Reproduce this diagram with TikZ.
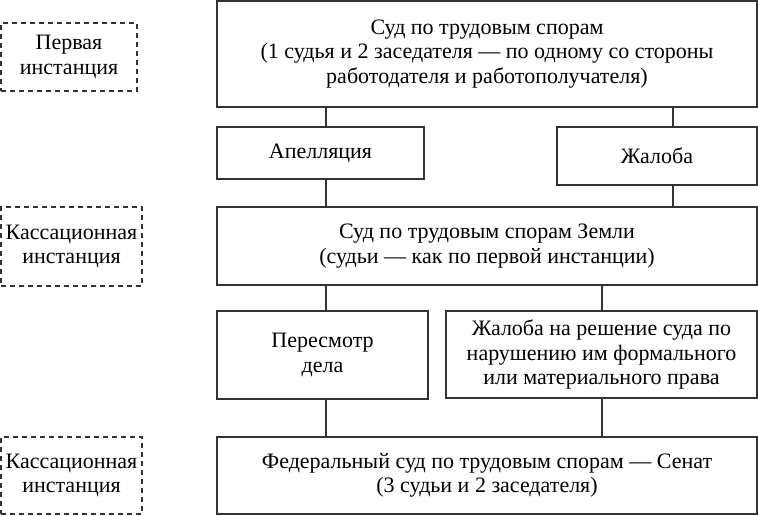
\documentclass[tikz,border=0pt]{standalone}
\usepackage{fontspec}
\setmainfont{Liberation Serif}
\begin{document}
\begin{tikzpicture}[x=1pt, y=-1pt,
    court/.style ={rectangle, draw=black!80, line width=1.2pt, align=center,
      font=\fontsize{22}{24.5}\selectfont, inner sep=0pt},
    level/.style ={rectangle, draw=black!80, line width=1.2pt, dash pattern=on 5pt off 4pt,
      align=center, font=\fontsize{22}{24.5}\selectfont, inner sep=0pt},
    link/.style ={draw=black!80, line width=1.2pt}]
   \useasboundingbox (0,0) rectangle (758,515);

   \node[level, minimum width=136pt, minimum height=68pt] (first)  at (69,57)  {Первая\\инстанция};
   \node[level, minimum width=141pt, minimum height=79pt] (cass)   at (71.5,246.5) {Кассационная\\инстанция};
   \node[level, minimum width=141pt, minimum height=77pt] (senlvl) at (71.5,475.5) {Кассационная\\инстанция};

   \node[court, minimum width=540pt, minimum height=106pt] (labour) at (487,54)
     {Суд по трудовым спорам\\(1 судья и 2 заседателя — по одному со стороны\\работодателя и работополучателя)};
   \node[court, minimum width=207pt, minimum height=52pt] (appeal) at (320.5,153) {Апелляция};
   \node[court, minimum width=200pt, minimum height=58pt] (compl)  at (657,156) {Жалоба};
   \node[court, minimum width=540pt, minimum height=78pt] (land)   at (487,246)
     {Суд по трудовым спорам Земли\\(судьи — как по первой инстанции)};
   \node[court, minimum width=211pt, minimum height=88pt] (review) at (322.5,355) {Пересмотр\\дела};
   \node[court, minimum width=311pt, minimum height=87pt] (breach) at (601.5,354.5)
     {Жалоба на решение суда по\\нарушению им формального\\или материального права};
   \node[court, minimum width=540pt, minimum height=77pt] (senate) at (487,475.5)
     {Федеральный суд по трудовым спорам — Сенат\\(3 судьи и 2 заседателя)};

   \draw[link] ([xshift=5.5pt]appeal.north) to ([xshift=5.5pt]appeal.north |- labour.south);
   \draw[link] ([xshift=16pt]compl.north) to ([xshift=16pt]compl.north |- labour.south);
   \draw[link] ([xshift=5.5pt]appeal.south) to ([xshift=5.5pt]appeal.south |- land.north);
   \draw[link] ([xshift=16pt]compl.south) to ([xshift=16pt]compl.south |- land.north);
   \draw[link] ([xshift=3.5pt]review.north) to ([xshift=3.5pt]review.north |- land.south);
   \draw[link] ([xshift=0.5pt]breach.north) to ([xshift=0.5pt]breach.north |- land.south);
   \draw[link] ([xshift=3.5pt]review.south) to ([xshift=3.5pt]review.south |- senate.north);
   \draw[link] ([xshift=0.5pt]breach.south) to ([xshift=0.5pt]breach.south |- senate.north);
\end{tikzpicture}
\end{document}
